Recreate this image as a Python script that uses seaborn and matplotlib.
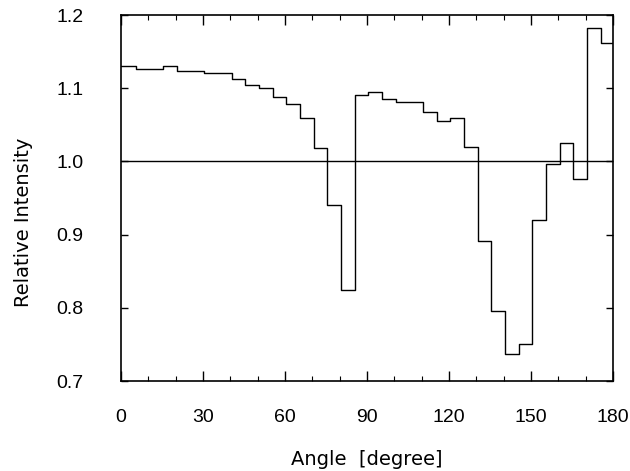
import matplotlib
matplotlib.use("Agg")
import matplotlib.pyplot as plt
from matplotlib.ticker import MultipleLocator
import seaborn as sns
import pandas as pd

# left edge of each angular bin (degree) and the relative intensity in it
bin_start = [0, 5.5, 10.5, 15.5, 20.5, 25.5, 30.5, 35.5, 40.5, 45.5,
             50.5, 55.5, 60.5, 65.5, 70.5, 75.5, 80.5, 85.5, 90.5, 95.5,
             100.5, 105.5, 110.5, 115.5, 120.5, 125.5, 130.5, 135.5, 140.5, 145.5,
             150.5, 155.5, 160.5, 165.5, 170.5, 175.5]
intensity = [1.131, 1.126, 1.127, 1.131, 1.123, 1.123, 1.121, 1.121, 1.113, 1.105,
             1.101, 1.088, 1.078, 1.060, 1.018, 0.940, 0.825, 1.091, 1.095, 1.086,
             1.081, 1.081, 1.068, 1.055, 1.060, 1.020, 0.891, 0.796, 0.737, 0.750,
             0.920, 0.997, 1.025, 0.976, 1.183, 1.162]
angle_end = 180
x_ticks = [0, 30, 60, 90, 120, 150, 180]
y_ticks = [0.7, 0.8, 0.9, 1.0, 1.1, 1.2]

# close the last step at 180 degree
df = pd.DataFrame({"angle": bin_start + [angle_end],
                   "intensity": intensity + [intensity[-1]]})

sns.set_style("ticks")
plt.rcParams["font.family"] = ["Liberation Sans", "DejaVu Sans"]
plt.rcParams["text.color"] = "black"
plt.rcParams["axes.labelcolor"] = "black"
plt.rcParams["xtick.color"] = "black"
plt.rcParams["ytick.color"] = "black"

fig = plt.figure(figsize=(6.3, 4.71), dpi=100)
ax = fig.add_axes([0.192, 0.191, 0.781, 0.777])

sns.lineplot(data=df, x="angle", y="intensity", drawstyle="steps-post",
             color="black", linewidth=1.0, ax=ax)
ax.axhline(1.0, color="black", linewidth=1.0)

ax.set_xlim(0, 180)
ax.set_ylim(0.7, 1.2)
ax.set_xticks(x_ticks)
ax.set_yticks(y_ticks)
ax.set_yticklabels([f"{v:.1f}" for v in y_ticks])
ax.xaxis.set_minor_locator(MultipleLocator(10))

for s in ax.spines.values():
    s.set_linewidth(1.2)
    s.set_color("black")

tick_font = ["Liberation Sans Narrow", "Liberation Sans", "DejaVu Sans"]
ax.tick_params(axis="x", which="major", direction="in", length=7, width=1,
               top=True, pad=20, labelsize=14)
ax.tick_params(axis="x", which="minor", direction="in", length=3.5, width=0.8,
               top=True)
ax.tick_params(axis="y", which="major", direction="in", length=5, width=1,
               right=True, pad=27, labelsize=14)
for lab in ax.get_xticklabels() + ax.get_yticklabels():
    lab.set_family(tick_font)

ax.set_xlabel("Angle  [degree]", fontsize=14, family=["DejaVu Sans"])
ax.set_ylabel("Relative Intensity", fontsize=14, family=["DejaVu Sans"])
ax.xaxis.set_label_coords(0.5, -0.188)
ax.xaxis.label.set_va("top")
ax.yaxis.set_label_coords(-0.179, 0.434)

fig.savefig("out.png", dpi=100)
